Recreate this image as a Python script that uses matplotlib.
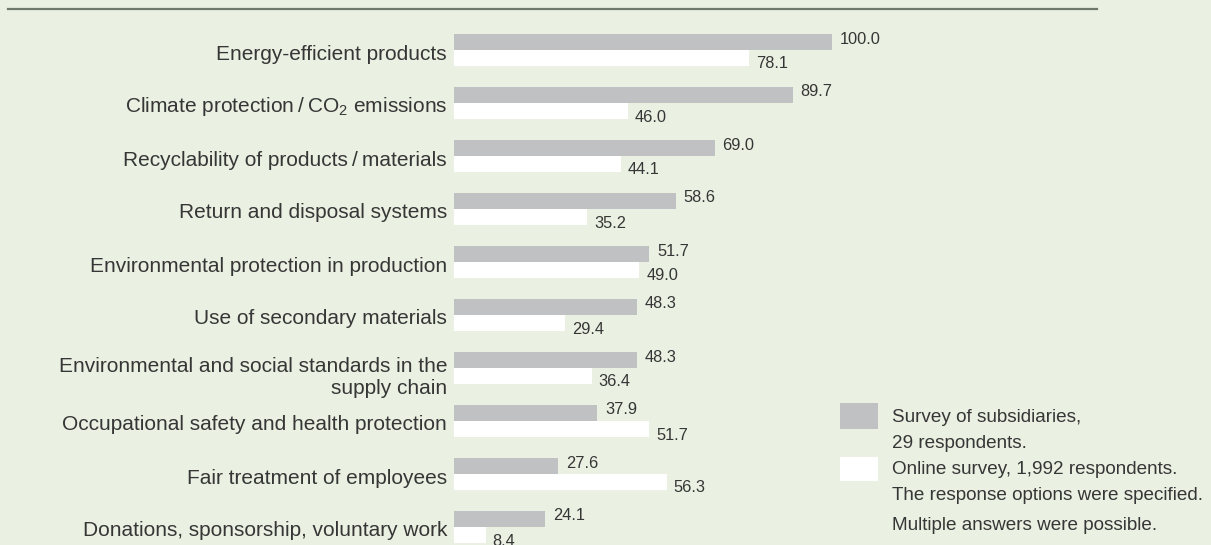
import matplotlib
matplotlib.use("Agg")
import matplotlib.pyplot as plt
from matplotlib.patches import Rectangle
from matplotlib.lines import Line2D

plt.rcParams['font.family'] = ['Liberation Sans', 'DejaVu Sans']
plt.rcParams['mathtext.fontset'] = 'custom'
plt.rcParams['mathtext.rm'] = 'Liberation Sans'
plt.rcParams['mathtext.it'] = 'Liberation Sans'

categories = [
    "Energy-efficient products",
    "Climate protection\u2009/\u2009CO$_2$ emissions",
    "Recyclability of products\u2009/\u2009materials",
    "Return and disposal systems",
    "Environmental protection in production",
    "Use of secondary materials",
    "Environmental and social standards in the\nsupply chain",
    "Occupational safety and health protection",
    "Fair treatment of employees",
    "Donations, sponsorship, voluntary work",
]
subsidiaries = [100.0, 89.7, 69.0, 58.6, 51.7, 48.3, 48.3, 37.9, 27.6, 24.1]
online = [78.1, 46.0, 44.1, 35.2, 49.0, 29.4, 36.4, 51.7, 56.3, 8.4]

legend_lines = ["Survey of subsidiaries,", "29 respondents.",
                "Online survey, 1,992 respondents.",
                "The response options were specified."]
note = "Multiple answers were possible."

BG = "#eaf0e2"
GREY = "#c0c1c3"
TXT = "#363636"
W, H = 1211, 545

fig = plt.figure(figsize=(W / 100, H / 100), dpi=100, facecolor=BG)
ax = fig.add_axes([454 / W, 0, (W - 454) / W, 1])
ax.set_facecolor(BG)
ax.set_xlim(0, (W - 454) / 3.78)
ax.set_ylim(H, 0)
ax.axis("off")

pitch, bh, top0 = 53, 16, 34
for i, cat in enumerate(categories):
    yb = top0 + pitch * i + bh          # boundary between the two bars
    ax.barh(yb - bh / 2, subsidiaries[i], height=bh, color=GREY, align="center")
    ax.barh(yb + bh / 2, online[i], height=bh, color="white", align="center")
    ax.annotate(f"{subsidiaries[i]:.1f}", (subsidiaries[i], yb - bh / 2 - 3),
                xytext=(5.5, 0), textcoords="offset points", va="center",
                ha="left", fontsize=11.8, color=TXT, annotation_clip=False)
    ax.annotate(f"{online[i]:.1f}", (online[i], yb + bh / 2 + 6),
                xytext=(5, 0), textcoords="offset points", va="center",
                ha="left", fontsize=11.8, color=TXT, annotation_clip=False)
    dy = 10 if "\n" in cat else 4
    ax.annotate(cat, (0, yb + dy), xytext=(-5, 0), textcoords="offset points",
                va="center", ha="right", fontsize=15, color=TXT,
                linespacing=1.2, annotation_clip=False)

# top rule
fig.add_artist(Line2D([8 / W, 1097 / W], [1 - 9 / H, 1 - 9 / H],
                      color="#6f786c", lw=1.6))

# legend
def px(x, y):
    return x / W, 1 - y / H

fig.add_artist(Rectangle(px(840, 429), 38 / W, 26 / H, color=GREY, lw=0))
fig.add_artist(Rectangle(px(840, 481), 38 / W, 24 / H, color="white", lw=0))
for line, y in zip(legend_lines, [417, 443, 469, 495]):
    fig.text(*px(892, y), line, fontsize=13.6, color=TXT, va="center", ha="left")
fig.text(*px(892, 525), note, fontsize=13.6, color=TXT, va="center", ha="left")

fig.savefig("out.png", dpi=100, facecolor=BG)
